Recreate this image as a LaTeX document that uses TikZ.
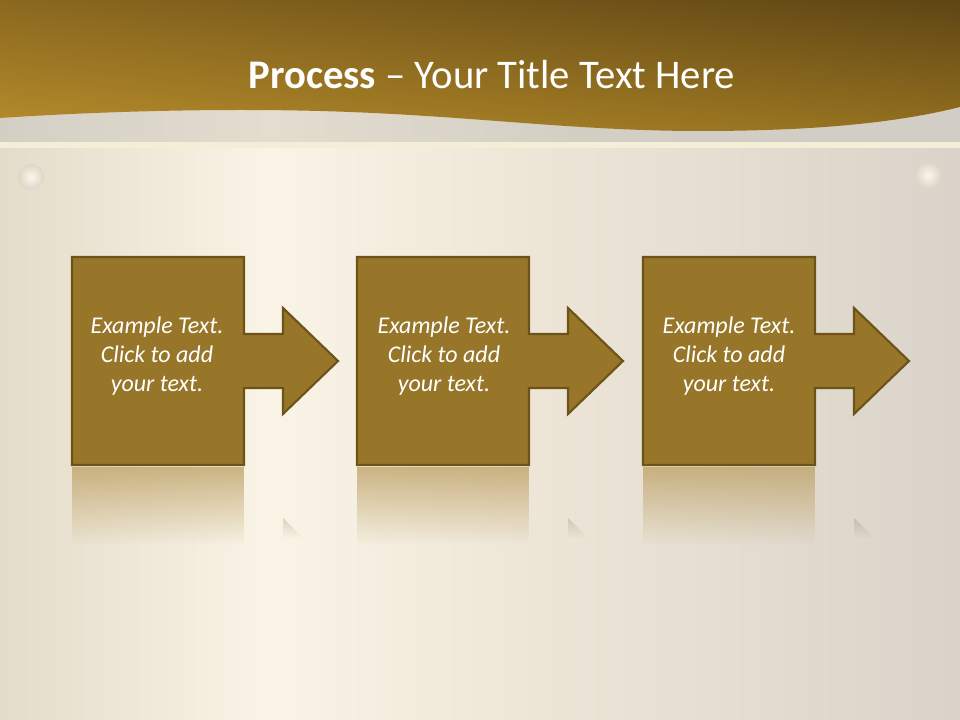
\documentclass[tikz,border=0pt]{standalone}
\usepackage{fontspec}
\setmainfont{Carlito}
\usetikzlibrary{fadings, shadings}
\definecolor{headDark}{HTML}{5E4514}
\definecolor{headMid}{HTML}{8A681F}
\definecolor{headGold}{HTML}{B68C2B}
\definecolor{headLow}{HTML}{93701F}
\definecolor{bgLeft}{HTML}{E4DCCA}
\definecolor{bgGlow}{HTML}{F9F4E6}
\definecolor{bgMid}{HTML}{EEE7D8}
\definecolor{bgRight}{HTML}{D9D3C9}
\definecolor{bandLeft}{HTML}{D4CFC5}
\definecolor{bandGlow}{HTML}{E3DDCF}
\definecolor{bandRight}{HTML}{D2CDC5}
\definecolor{stripeLight}{HTML}{F4EED9}
\definecolor{stepFill}{HTML}{97762A}
\definecolor{stepLine}{HTML}{6E5319}
\definecolor{reflTan}{HTML}{BDA064}
\definecolor{pinLight}{HTML}{FAF7EC}
\definecolor{pinEdge}{HTML}{DDD6C6}
\pgfdeclarehorizontalshading{bgglow}{100bp}{color(0bp)=(bgLeft); color(25bp)=(bgLeft); color(39bp)=(bgGlow); color(52bp)=(bgMid); color(75bp)=(bgRight); color(100bp)=(bgRight)}
\pgfdeclarehorizontalshading{bandglow}{100bp}{color(0bp)=(bandLeft); color(25bp)=(bandLeft); color(39bp)=(bandGlow); color(55bp)=(bandLeft); color(75bp)=(bandRight); color(100bp)=(bandRight)}
\tikzfading[name=reflfade, top color=transparent!25, bottom color=transparent!100]
\tikzfading[name=tipfade, top color=transparent!80, bottom color=transparent!100]

\begin{document}
\begin{tikzpicture}[
  x=0.75pt, y=-0.75pt,
  stepshape/.style={fill=stepFill, draw=stepLine, line width=1.6pt, line join=miter},
  steptext/.style={text=white, align=center, font=\itshape\fontsize{18}{21.75}\selectfont},
  titletext/.style={text=white, font=\fontsize{30.5}{36}\selectfont},
  reflection/.style={fill=reflTan, path fading=reflfade},
  tipreflection/.style={fill=stepLine, path fading=tipfade}
]
\useasboundingbox (0,0) rectangle (960,720);

% background
\fill[shading=bgglow] (0,0) rectangle (960,720);
\fill[shading=bandglow] (0,100) rectangle (960,142);
\fill[stripeLight] (0,142) rectangle (960,148);
\shade[upper left=headMid, upper right=headDark, lower left=headGold, lower right=headLow]
  (0,0) -- (960,0) -- (960,107)
  .. controls (900,122) and (820,131) .. (700,131)
  .. controls (580,131) and (480,117) .. (350,112)
  .. controls (250,108) and (120,110) .. (0,118) -- cycle;

% pins
\shade[inner color=pinLight, outer color=pinEdge] (31,177) circle (13);
\shade[inner color=pinLight, outer color=pinEdge] (928,175) circle (13);

\node[titletext] (title) at (492,75) {\textbf{Process} – Your Title Text Here};

% reflections
\fill[reflection] (72,467) rectangle (244,545);
\fill[reflection] (357,467) rectangle (529,545);
\fill[reflection] (643,467) rectangle (815,545);
\fill[tipreflection] (283,518) -- (303,538) -- (283,538) -- cycle;
\fill[tipreflection] (568,518) -- (588,538) -- (568,538) -- cycle;
\fill[tipreflection] (854,518) -- (874,538) -- (854,538) -- cycle;

% steps
\draw[stepshape] (72,257) -- (244,257) -- (244,334) -- (283,334) -- (283,308) -- (338,361)
  -- (283,414) -- (283,388) -- (244,388) -- (244,465) -- (72,465) -- cycle;
\draw[stepshape] (357,257) -- (529,257) -- (529,334) -- (568,334) -- (568,308) -- (623,361)
  -- (568,414) -- (568,388) -- (529,388) -- (529,465) -- (357,465) -- cycle;
\draw[stepshape] (643,257) -- (815,257) -- (815,334) -- (854,334) -- (854,308) -- (909,361)
  -- (854,414) -- (854,388) -- (815,388) -- (815,465) -- (643,465) -- cycle;

\node[steptext] (step1) at (157,356) {Example Text.\\Click to add\\your text.};
\node[steptext] (step2) at (444,356) {Example Text.\\Click to add\\your text.};
\node[steptext] (step3) at (729,356) {Example Text.\\Click to add\\your text.};
\end{tikzpicture}
\end{document}
